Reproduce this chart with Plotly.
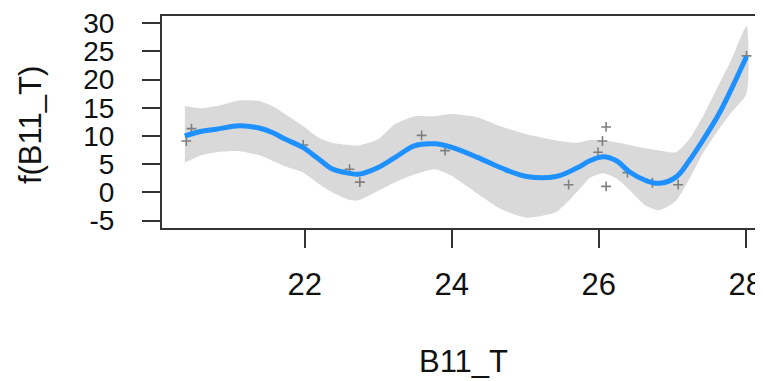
import plotly.graph_objects as go

# Smooth estimate (x grid, centre, upper/lower confidence band)
grid_x = [20.37, 20.58, 20.80, 21.11, 21.38, 21.56, 21.74, 21.97, 22.19, 22.37,
          22.60, 22.73, 23.00, 23.23, 23.50, 23.77, 23.99, 24.35, 24.66, 25.02,
          25.42, 25.70, 25.88, 26.06, 26.24, 26.42, 26.64, 26.82, 27.05, 27.23,
          27.41, 27.63, 27.81, 28.01]
fit_y = [10.0, 10.8, 11.2, 11.8, 11.4, 10.6, 9.4, 8.0, 5.9, 4.2,
         3.4, 3.2, 4.4, 6.2, 8.3, 8.6, 8.0, 6.2, 4.4, 2.8,
         2.8, 4.3, 5.6, 6.3, 5.6, 3.6, 2.1, 1.6, 2.7, 5.6,
         9.1, 13.8, 18.5, 24.1]
upper_y = [15.3, 14.9, 15.3, 16.3, 16.2, 15.3, 13.8, 11.8, 9.7, 8.8,
           8.4, 8.3, 9.4, 12.1, 13.5, 13.5, 13.9, 13.3, 11.7, 10.3,
           9.2, 8.8, 9.3, 9.2, 8.9, 8.4, 7.8, 7.4, 7.1, 9.4,
           13.3, 19.0, 23.7, 29.5]
lower_y = [5.3, 6.5, 7.1, 7.3, 6.6, 5.6, 4.6, 3.6, 1.5, 0.0,
           -1.3, -1.4, 0.3, 1.8, 3.2, 4.1, 3.0, -0.2, -2.9, -4.5,
           -3.5, 0.0, 2.6, 3.4, 2.5, 0.4, -2.4, -3.2, -1.5, 2.3,
           6.8, 11.1, 14.3, 17.5]

# Partial residuals
res_x = [20.39, 20.46, 21.98, 22.61, 22.75, 23.59, 23.91, 25.59, 25.99, 26.05,
         26.10, 26.10, 26.39, 26.73, 27.08, 28.01]
res_y = [9.1, 11.3, 8.4, 4.1, 1.8, 10.1, 7.4, 1.35, 7.1, 9.1,
         11.6, 1.05, 3.5, 1.7, 1.35, 24.2]

x_ticks = [22, 24, 26, 28]
y_ticks = [30, 25, 20, 15, 10, 5, 0, -5]

FONT = "Liberation Sans, Arial, sans-serif"

fig = go.Figure()
fig.add_trace(go.Scatter(
    x=grid_x + grid_x[::-1], y=upper_y + lower_y[::-1],
    fill="toself", fillcolor="#D9D9D9",
    line=dict(width=0, color="#D9D9D9", shape="spline", smoothing=0.6),
    mode="lines", hoverinfo="skip", showlegend=False))
fig.add_trace(go.Scatter(
    x=res_x, y=res_y, mode="markers",
    marker=dict(symbol="cross-thin", size=7, line=dict(width=1.6, color="#7F7F7F"), color="#7F7F7F"),
    showlegend=False))
fig.add_trace(go.Scatter(
    x=grid_x, y=fit_y, mode="lines", line=dict(color="#1E90FF", width=5, shape="spline"),
    showlegend=False))

# page body has an 8px margin: figure is sized/offset to compensate
fig.update_layout(
    width=755, height=373,
    margin=dict(l=154, r=0, t=6, b=153),
    paper_bgcolor="white", plot_bgcolor="white",
    font=dict(family=FONT, color="black"),
    annotations=[
        dict(text="B11_T", xref="paper", yref="paper", x=0.5058, y=-0.631,
             xanchor="center", yanchor="middle", showarrow=False,
             font=dict(size=31, family=FONT, color="#111")),
        dict(text="f(B11_T)", xref="paper", yref="paper", x=-0.2196, y=0.486,
             xanchor="center", yanchor="middle", showarrow=False, textangle=-90,
             font=dict(size=31, family=FONT, color="#111")),
    ],
)
fig.update_xaxes(
    range=[20.059, 28.166], tickvals=x_ticks, ticktext=[str(v) for v in x_ticks],
    showgrid=False, zeroline=False, showline=True, mirror=True,
    linecolor="#333", linewidth=2, ticks="outside", ticklen=18, tickwidth=2,
    tickcolor="#333", tickfont=dict(size=31, family=FONT, color="#111"),
    ticklabelstandoff=10, ticklabeloverflow="allow")
fig.update_yaxes(
    range=[-6.33, 31.28], tickvals=y_ticks, ticktext=[str(v) for v in y_ticks],
    showgrid=False, zeroline=False, showline=True, mirror=False,
    linecolor="#333", linewidth=2, ticks="outside", ticklen=18, tickwidth=2,
    tickcolor="#333", tickfont=dict(size=28, family=FONT, color="#111"),
    ticklabelstandoff=22, ticklabeloverflow="allow")

fig.write_html("out.html")
